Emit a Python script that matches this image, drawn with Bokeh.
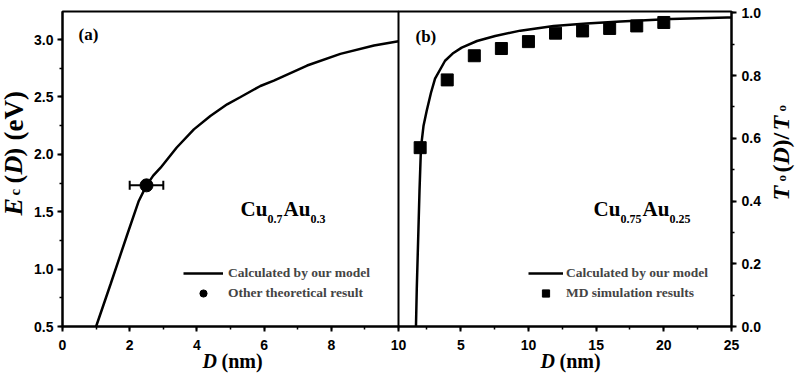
import math
from bokeh.plotting import figure
from bokeh.models import (ColumnDataSource, SingleIntervalTicker, Legend, LegendItem,
                          Label, Whisker, TeeHead, Range1d, PrintfTickFormatter)
from bokeh.layouts import row, column
from bokeh.embed import file_html
from bokeh.resources import INLINE

# ---------------- data ----------------
# panel (a): Cu0.7Au0.3, E_c(D) in eV
model_a_D = [1.0, 1.43, 1.93, 2.27, 2.5, 2.7, 2.92, 3.4, 3.91, 4.4, 4.9, 5.3, 5.89,
             6.29, 7.28, 8.27, 9.27, 10.0]
model_a_E = [0.5, 0.868, 1.304, 1.594, 1.73, 1.815, 1.884, 2.06, 2.218, 2.335, 2.436,
             2.5, 2.596, 2.643, 2.774, 2.876, 2.948, 2.985]
other_D = [2.5]
other_E = [1.73]
other_Derr = [0.5]

# panel (b): Cu0.75Au0.25, T0(D)/T0
model_b_D = [1.69, 1.75, 1.86, 1.95, 2.06, 2.25, 2.48, 2.8, 3.1, 3.84, 4.4, 5.07, 6.2,
             7.54, 9.4, 11.86, 14.3, 16.8, 20.5, 24.7, 25.0]
model_b_T = [0.0, 0.12, 0.29, 0.43, 0.57, 0.64, 0.687, 0.745, 0.79, 0.847, 0.87, 0.889, 0.91,
             0.926, 0.943, 0.958, 0.966, 0.972, 0.98, 0.985, 0.985]
md_D = [2, 4, 6, 8, 10, 12, 14, 16, 18, 20]
md_T = [0.57, 0.786, 0.863, 0.886, 0.908, 0.935, 0.942, 0.95, 0.958, 0.969]

legend_a = ["Calculated by our model", "Other theoretical result"]
legend_b = ["Calculated by our model", "MD simulation results"]

SERIF = "Liberation Serif"
SANS = "Liberation Sans"
W, H = 800, 377
FRAME_TOP, FRAME_BOTTOM = 11, 326
BASE_FIX = 7  # alphabetic-baseline correction (px)


def style_axes(p):
    p.outline_line_color = "black"
    p.outline_line_width = 2
    p.grid.visible = False
    for ax in p.axis:
        ax.axis_line_width = 2
        ax.major_tick_line_width = 2
        ax.minor_tick_line_width = 1.5
        ax.major_tick_out = 5
        ax.major_tick_in = 0
        ax.minor_tick_out = 3
        ax.minor_tick_in = 0
        ax.major_label_text_font = SANS
        ax.major_label_text_font_style = "bold"
        ax.major_label_text_font_size = "14px"
        ax.major_label_text_color = "black"


def txt(p, frame_left, frame_bottom, cx, cy, text, size, italic=False, rotated=False):
    if rotated:
        cx -= BASE_FIX
    else:
        cy -= BASE_FIX
    p.add_layout(Label(x=cx - frame_left, y=frame_bottom - cy, x_units="screen", y_units="screen",
                       text=text, text_font=SERIF, text_font_size=f"{size}px",
                       text_font_style="bold italic" if italic else "bold",
                       text_color="black", angle=math.pi / 2 if rotated else 0.0,
                       text_align="left", text_baseline="alphabetic"))


# ---------------- panel (a) ----------------
pa = figure(width=410, height=H, output_backend="svg", toolbar_location=None,
            x_range=Range1d(0, 10), y_range=Range1d(0.5, 3.245),
            min_border_left=62, min_border_right=12, min_border_top=FRAME_TOP,
            min_border_bottom=H - FRAME_BOTTOM)
pa.xaxis.ticker = SingleIntervalTicker(interval=2, num_minor_ticks=2)
pa.yaxis.ticker = SingleIntervalTicker(interval=0.5, num_minor_ticks=2)
pa.xaxis.formatter = PrintfTickFormatter(format="%d")
pa.yaxis.formatter = PrintfTickFormatter(format="%.1f")
style_axes(pa)
pa.xaxis.major_label_standoff = 8
pa.yaxis.major_label_standoff = 4

ra = pa.line(model_a_D, model_a_E, line_color="black", line_width=2.5)
err_src = ColumnDataSource(dict(x=other_D, y=other_E,
                                lo=[d - e for d, e in zip(other_D, other_Derr)],
                                hi=[d + e for d, e in zip(other_D, other_Derr)]))
pa.add_layout(Whisker(source=err_src, base="y", lower="lo", upper="hi", dimension="width",
                      line_color="black", line_width=2,
                      lower_head=TeeHead(size=9, line_width=2, line_color="black"),
                      upper_head=TeeHead(size=9, line_width=2, line_color="black")))
rd = pa.scatter("x", "y", source=err_src, marker="circle", size=13, fill_color="black",
                line_color="black")

leg_a = Legend(items=[LegendItem(label=legend_a[0], renderers=[ra]),
                      LegendItem(label=legend_a[1], renderers=[rd])],
               location=(121, 24), padding=0, margin=0, spacing=2, glyph_width=40,
               glyph_height=18, label_height=18, label_standoff=5,
               border_line_alpha=0, background_fill_alpha=0,
               label_text_font=SERIF, label_text_font_style="bold",
               label_text_font_size="13.5px")
pa.add_layout(leg_a)

LA = 62
txt(pa, LA, FRAME_BOTTOM, 78, 41, "(a)", 17)
txt(pa, LA, FRAME_BOTTOM, 240, 215, "Cu", 21)
txt(pa, LA, FRAME_BOTTOM, 267, 225, "0.7", 12)
txt(pa, LA, FRAME_BOTTOM, 283, 215, "Au", 21)
txt(pa, LA, FRAME_BOTTOM, 310, 225, "0.3", 12)

# ---------------- panel (b) ----------------
pb = figure(width=402, height=H, output_backend="svg", toolbar_location=None,
            x_range=Range1d(0.4, 25), y_range=Range1d(0, 1.004), y_axis_location="right",
            min_border_left=0, min_border_right=69, min_border_top=FRAME_TOP,
            min_border_bottom=H - FRAME_BOTTOM, border_fill_alpha=0,
            styles={"margin-left": "-12px"})
pb.xaxis.ticker = SingleIntervalTicker(interval=5, num_minor_ticks=2)
pb.yaxis.ticker = SingleIntervalTicker(interval=0.2, num_minor_ticks=2)
pb.xaxis.formatter = PrintfTickFormatter(format="%d")
pb.yaxis.formatter = PrintfTickFormatter(format="%.1f")
style_axes(pb)
pb.xaxis.major_label_standoff = 8
pb.yaxis.major_label_standoff = 5

rb = pb.line(model_b_D, model_b_T, line_color="black", line_width=2.5)
rs = pb.scatter(md_D, md_T, marker="square", size=12, fill_color="black", line_color="black")

leg_b = Legend(items=[LegendItem(label=legend_b[0], renderers=[rb]),
                      LegendItem(label=legend_b[1], renderers=[rs])],
               location=(130, 24), padding=0, margin=0, spacing=2, glyph_width=35,
               glyph_height=18, label_height=18, label_standoff=3,
               border_line_alpha=0, background_fill_alpha=0,
               label_text_font=SERIF, label_text_font_style="bold",
               label_text_font_size="13.5px")
pb.add_layout(leg_b)

LB = 398
txt(pb, LB, FRAME_BOTTOM, 415, 43, "(b)", 17)
txt(pb, LB, FRAME_BOTTOM, 593, 215, "Cu", 21)
txt(pb, LB, FRAME_BOTTOM, 620, 225, "0.75", 12)
txt(pb, LB, FRAME_BOTTOM, 642, 215, "Au", 21)
txt(pb, LB, FRAME_BOTTOM, 669, 225, "0.25", 12)

# ---------------- transparent overlay carrying the axis titles ----------------
pl = figure(width=W, height=H, output_backend="svg", toolbar_location=None,
            x_range=Range1d(0, W), y_range=Range1d(0, H),
            x_axis_location=None, y_axis_location=None, min_border=0,
            min_border_left=0, min_border_right=0, min_border_top=0, min_border_bottom=0,
            outline_line_color=None, background_fill_alpha=0, border_fill_alpha=0,
            styles={"margin-top": f"-{H}px"})
pl.grid.visible = False

# left axis title: E_c(D) (eV)
txt(pl, 0, H, 20, 215, "E", 26, italic=True, rotated=True)
txt(pl, 0, H, 21, 195, "c", 15, rotated=True)
txt(pl, 0, H, 20, 183, "(", 26, rotated=True)
txt(pl, 0, H, 20, 174, "D", 26, italic=True, rotated=True)
txt(pl, 0, H, 20, 156, ")", 26, rotated=True)
txt(pl, 0, H, 20, 140, "(eV)", 27, rotated=True)
# right axis title: T_o(D)/T_o
txt(pl, 0, H, 787, 200, "T", 24, italic=True, rotated=True)
txt(pl, 0, H, 788, 181, "o", 13, rotated=True)
txt(pl, 0, H, 787, 172, "(", 24, rotated=True)
txt(pl, 0, H, 787, 164, "D", 24, italic=True, rotated=True)
txt(pl, 0, H, 787, 147, ")", 24, rotated=True)
txt(pl, 0, H, 787, 139, "/", 24, rotated=True)
txt(pl, 0, H, 787, 130, "T", 24, italic=True, rotated=True)
txt(pl, 0, H, 788, 111, "o", 13, rotated=True)
# bottom titles: D (nm)
txt(pl, 0, H, 202, 367, "D", 20, italic=True)
txt(pl, 0, H, 221, 367, "(nm)", 20)
txt(pl, 0, H, 540, 367, "D", 20, italic=True)
txt(pl, 0, H, 559, 367, "(nm)", 20)

layout = column(row(pa, pb, spacing=0), pl, spacing=0)
open("out.html", "w").write(file_html(layout, INLINE))
